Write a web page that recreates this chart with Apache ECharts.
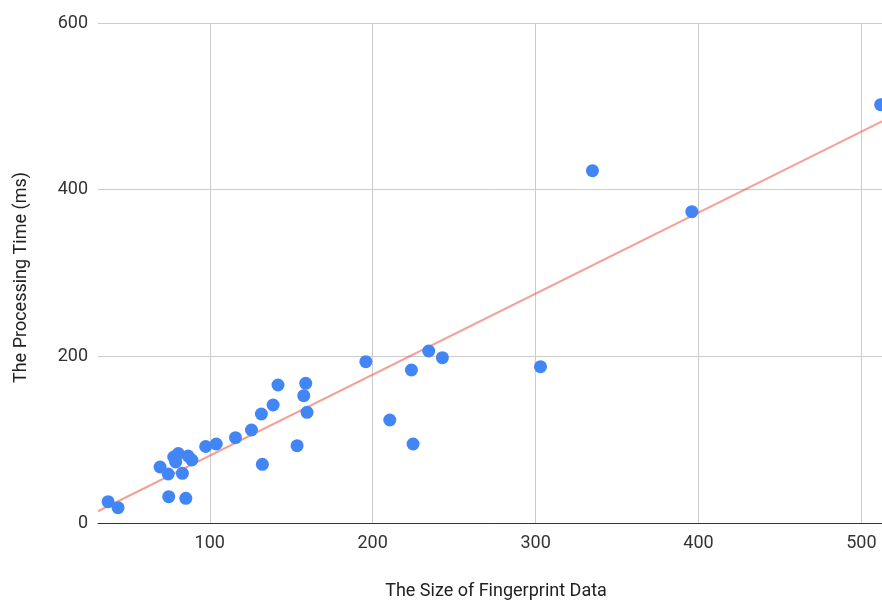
<!DOCTYPE html>
<html>
<head>
<meta charset="utf-8">
<script src="https://cdn.jsdelivr.net/npm/echarts@6/dist/echarts.min.js"></script>
<style>
html,body{margin:0;padding:0;background:#fff;overflow:hidden;}
#chart{width:882px;height:601px;}
</style>
</head>
<body>
<div id="chart"></div>
<script>
// Size of fingerprint data (x) and processing time in ms (y)
var sizeData = [37.6, 43.7, 69.5, 74.5, 74.8, 77.9, 79.1, 80.7, 83.2, 85.3, 86.7, 89.0,
  97.5, 104.0, 115.8, 125.6, 131.7, 132.3, 138.9, 141.9, 153.6, 157.7, 158.9, 159.7,
  195.8, 210.5, 223.8, 224.8, 234.4, 242.8, 303.0, 334.9, 395.9, 511.8];
var timeData = [25.6, 18.4, 67.2, 58.8, 31.6, 79.2, 73.2, 83.4, 59.6, 29.6, 80.4, 75.6,
  91.8, 94.8, 102.4, 111.6, 130.8, 70.4, 141.6, 165.6, 92.8, 152.8, 167.6, 132.8,
  193.6, 123.6, 183.6, 94.8, 206.4, 198.4, 187.6, 422.8, 373.6, 502.0];
// Trendline endpoints
var trendX = [31.4, 520];
var trendY = [14.1, 489.0];
var yTicks = [0, 200, 400, 600];

var points = sizeData.map(function (x, i) { return [x, timeData[i]]; });
var trend = trendX.map(function (x, i) { return [x, trendY[i]]; });

var chart = echarts.init(document.getElementById('chart'));
chart.setOption({
  animation: false,
  backgroundColor: '#ffffff',
  textStyle: { fontFamily: 'Roboto' },
  grid: { left: 98, top: 23, width: 796, height: 500, containLabel: false, outerBoundsMode: 'none' },
  xAxis: {
    type: 'value',
    min: trendX[0],
    max: trendX[1],
    splitNumber: 5,
    name: 'The Size of Fingerprint Data',
    nameLocation: 'middle',
    nameGap: 59,
    nameTextStyle: { fontSize: 18, color: '#222', fontFamily: 'Roboto' },
    axisLine: { show: true, lineStyle: { color: '#333', width: 1 } },
    axisTick: { show: false },
    axisLabel: { fontSize: 18, color: '#333', margin: 11, showMinLabel: false, showMaxLabel: false, fontFamily: 'Roboto' },
    splitLine: { show: true, showMinLine: false, showMaxLine: false, lineStyle: { color: '#cccccc', width: 1 } }
  },
  yAxis: {
    type: 'value',
    min: yTicks[0],
    max: yTicks[yTicks.length - 1],
    interval: 200,
    name: 'The Processing Time (ms)',
    nameLocation: 'middle',
    nameGap: 68,
    nameTextStyle: { fontSize: 18, color: '#222', fontFamily: 'Roboto', padding: [0, 9, 0, 0] },
    axisLine: { show: false },
    axisTick: { show: false },
    axisLabel: { fontSize: 18, color: '#333', margin: 10, fontFamily: 'Roboto' },
    splitLine: { show: true, lineStyle: { color: '#cccccc', width: 1 } }
  },
  series: [
    {
      type: 'line',
      data: trend,
      showSymbol: false,
      symbol: 'none',
      lineStyle: { color: '#EA4335', opacity: 0.5, width: 2 },
      silent: true,
      z: 2
    },
    {
      type: 'scatter',
      data: points,
      symbolSize: 13,
      itemStyle: { color: '#4285F4', opacity: 1 },
      clip: false,
      z: 3
    }
  ]
});
</script>
</body>
</html>
